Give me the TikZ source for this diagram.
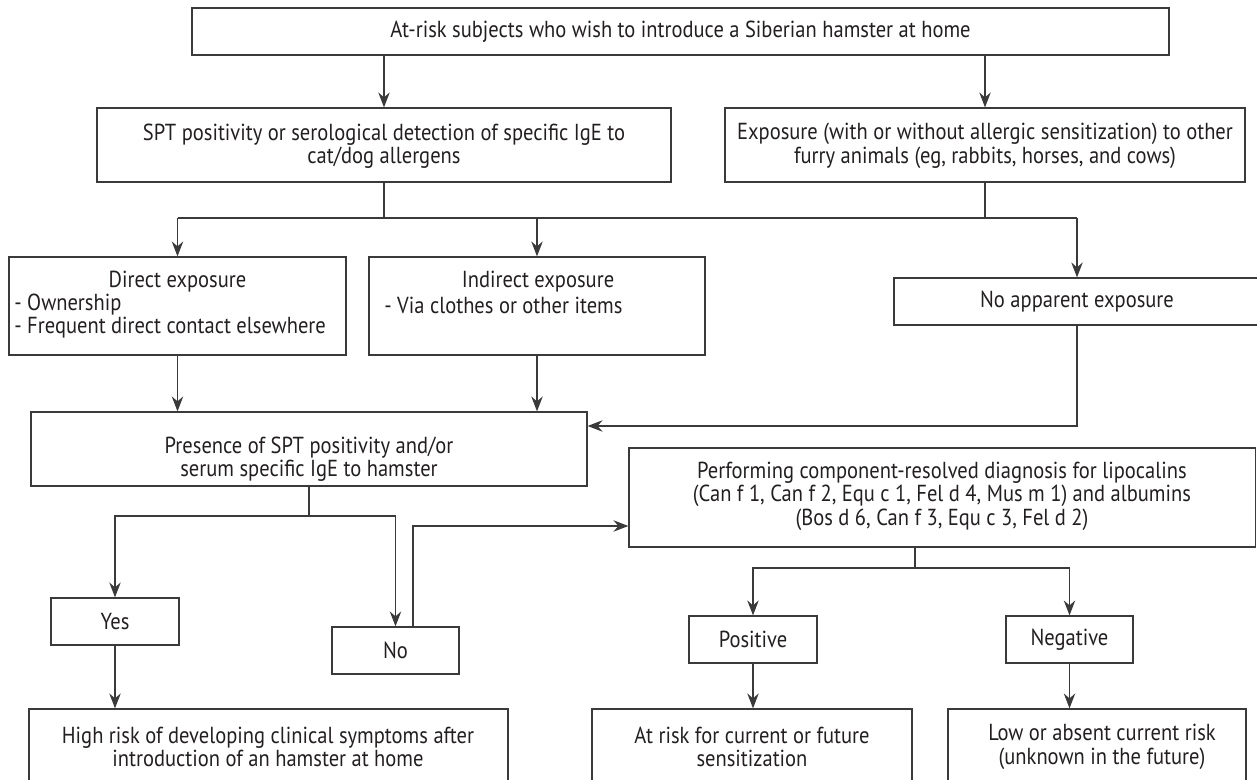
\documentclass[tikz,border=0pt]{standalone}
\usepackage{fontspec}
\setmainfont{PT Sans}[FakeStretch=0.885]
\usetikzlibrary{arrows.meta,fit,calc}
\definecolor{ln}{HTML}{3A3A3A}
\definecolor{tx}{HTML}{231F20}
\tikzset{
  box/.style={draw=ln, line width=0.7pt, inner sep=0pt, rectangle},
  lbl/.style={inner sep=0pt, text=tx, font=\fontsize{13.2}{13.4}\selectfont, align=center},
  con/.style={draw=ln, line width=0.7pt},
  arr/.style={con, -{Stealth[length=8.5pt,width=6.5pt,inset=2.8pt]}},
}
\begin{document}
\begin{tikzpicture}[x=0.02cm, y=-0.02cm]
\useasboundingbox (0,0) rectangle (1257,780);
\clip (0,0) rectangle (1257,780);
% boxes
\node[box, fit={(192,8) (1169,55)}] (top) {};
\node[box, fit={(97,108) (671,182)}] (spt) {};
\node[box, fit={(725,108) (1245,182)}] (exp) {};
\node[box, fit={(9,257) (346,355)}] (direct) {};
\node[box, fit={(369,257) (705,355)}] (indirect) {};
\node[box, fit={(894,278) (1260,325)}] (noapp) {};
\node[box, fit={(31,412) (587,486)}] (presence) {};
\node[box, fit={(629,448) (1255.5,547)}] (perf) {};
\node[box, fit={(51,598) (179,645)}] (yes) {};
\node[box, fit={(332,627) (459,674)}] (no) {};
\node[box, fit={(689,616) (817,663)}] (pos) {};
\node[box, fit={(1006,616) (1133,663)}] (neg) {};
\node[box, fit={(29,709) (508,790)}] (high) {};
\node[box, fit={(592,709) (912,790)}] (atrisk) {};
\node[box, fit={(948,709) (1246,790)}] (low) {};
% texts
\node[lbl] (ttop) at (680.5,32) {At-risk subjects who wish to introduce a Siberian hamster at home};
\node[lbl] (tspt) at (384,146) {SPT positivity or serological detection of specific IgE to\\cat/dog allergens};
\node[lbl] (texp) at (985,146) {Exposure (with or without allergic sensitization) to other\\furry animals (eg, rabbits, horses, and cows)};
\node[lbl] (tdir1) at (177.5,282) {Direct exposure};
\node[lbl, anchor=west] (tdir2) at (14,305) {- Ownership};
\node[lbl, anchor=west] (tdir3) at (14,328) {- Frequent direct contact elsewhere};
\node[lbl] (tind1) at (538,282) {Indirect exposure};
\node[lbl, anchor=west] (tind2) at (384,305) {- Via clothes or other items};
\node[lbl] (tnoapp) at (1077,301.5) {No apparent exposure};
\node[lbl] (tpres) at (309,459) {Presence of SPT positivity and/or\\serum specific IgE to hamster};
\node[lbl] (tperf) at (942,496) {Performing component-resolved diagnosis for lipocalins\\(Can f 1, Can f 2, Equ c 1, Fel d 4, Mus m 1) and albumins\\(Bos d 6, Can f 3, Equ c 3, Fel d 2)};
\node[lbl] (tyes) at (115,621.5) {Yes};
\node[lbl] (tno) at (395.5,650.5) {No};
\node[lbl] (tpos) at (753,639.5) {Positive};
\node[lbl] (tneg) at (1069.5,639.5) {Negative};
\node[lbl] (thigh) at (268,747) {High risk of developing clinical symptoms after\\introduction of an hamster at home};
\node[lbl] (tatrisk) at (752,747) {At risk for current or future\\sensitization};
\node[lbl] (tlow) at (1102,747) {Low or absent current risk\\(unknown in the future)};
% junction coordinates
\coordinate (jA) at (0,218);
\coordinate (jB) at (0,426);
\coordinate (jC) at (0,516);
\coordinate (jD) at (0,526);
\coordinate (jE) at (915,568);
\coordinate (noR) at (413,627);
% connectors
\draw[arr] (top.south -| spt.north) -- (spt.north);
\draw[arr] (top.south -| exp.north) -- (exp.north);
\draw[con] (spt.south) -- (spt.south |- jA);
\draw[con] (exp.south) -- (exp.south |- jA);
\draw[con] (direct.north |- jA) -- (noapp.north |- jA);
\draw[arr] (direct.north |- jA) -- (direct.north);
\draw[arr] (indirect.north |- jA) -- (indirect.north);
\draw[arr] (noapp.north |- jA) -- (noapp.north);
\draw[arr] (direct.south) -- (direct.south |- presence.north);
\draw[arr] (indirect.south) -- (indirect.south |- presence.north);
\draw[arr] (noapp.south) -- (noapp.south |- jB) -- (presence.east |- jB);
\draw[con] (presence.south) -- (presence.south |- jC);
\draw[arr] (presence.south |- jC) -| (yes.north);
\draw[arr] (presence.south |- jC) -| (no.north);
\draw[arr] (noR) -- (noR |- jD) -- (perf.west |- jD);
\draw[con] (perf.south -| jE) -- (jE);
\draw[arr] (jE) -| (pos.north);
\draw[arr] (jE) -| (neg.north);
\draw[arr] (yes.south) -- (yes.south |- high.north);
\draw[arr] (pos.south) -- (pos.south |- atrisk.north);
\draw[arr] (neg.south) -- (neg.south |- low.north);
\end{tikzpicture}
\end{document}
